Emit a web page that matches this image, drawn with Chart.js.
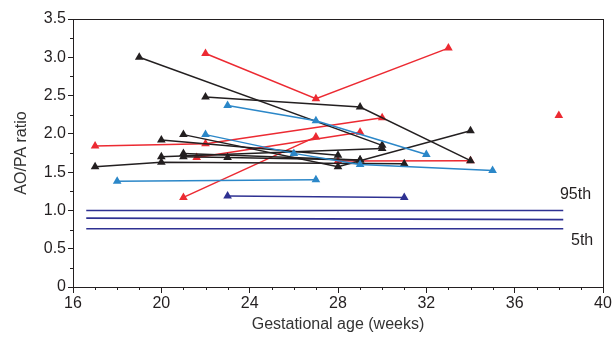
<!DOCTYPE html>
<html>
<head>
<meta charset="utf-8">
<script src="https://cdn.jsdelivr.net/npm/chart.js@4"></script>
<style>
  html, body { margin: 0; padding: 0; background: #fff; }
  #wrap { width: 616px; height: 338px; }
</style>
</head>
<body>
<div id="wrap"><canvas id="canvas" width="616" height="338"></canvas></div>
<script>
// x ticks and y ticks
var xTicks = [16, 20, 24, 28, 32, 36, 40];
var yTicks = [0, 0.5, 1.0, 1.5, 2.0, 2.5, 3.0, 3.5];

// black fetuses: weeks / ratio
var blackWeeks = [
  [19, 30],
  [22, 29, 34],
  [21, 28, 34],
  [17, 20, 31],
  [20, 30],
  [20, 28],
  [21, 29],
  [21, 23, 29]
];
var blackRatio = [
  [3.00, 1.85],
  [2.48, 2.35, 1.65],
  [1.99, 1.57, 2.04],
  [1.57, 1.63, 1.61],
  [1.70, 1.81],
  [1.92, 1.72],
  [1.745, 1.66],
  [1.70, 1.69, 1.66]
];

// red fetuses
var redWeeks = [
  [22, 27, 33],
  [17, 22, 30],
  [21, 27],
  [21.6, 29],
  [28, 34],
  [38]
];
var redRatio = [
  [3.05, 2.46, 3.12],
  [1.84, 1.87, 2.21],
  [1.17, 1.96],
  [1.69, 2.02],
  [1.645, 1.65],
  [2.24]
];

// blue fetuses
var blueWeeks = [
  [18, 27],
  [23, 27, 32],
  [22, 26, 29, 35]
];
var blueRatio = [
  [1.38, 1.40],
  [2.37, 2.17, 1.73],
  [1.99, 1.745, 1.60, 1.52]
];

// dark blue fetus
var navyWeeks = [[23, 31]];
var navyRatio = [[1.19, 1.17]];

// reference centiles
var refWeeks = [16.6, 38.2];
var ref95 = [1.00, 1.00];
var ref50 = [0.90, 0.88];
var ref5 = [0.76, 0.76];

var colors = {
  black: '#231f20',
  red: '#ec2a32',
  blue: '#2b87c8',
  navy: '#2e3192'
};

function pts(w, r) {
  return w.map(function(x, i) { return {x: x, y: r[i]}; });
}

var datasets = [];
function addGroup(weeks, ratios, col) {
  weeks.forEach(function(w, i) {
    datasets.push({
      data: pts(w, ratios[i]),
      borderColor: col,
      backgroundColor: col,
      borderWidth: 1.5,
      pointStyle: 'triangle',
      pointRadius: 5,
      pointBorderWidth: 0,
      showLine: true,
      tension: 0
    });
  });
}

[ref95, ref50, ref5].forEach(function(r) {
  datasets.push({
    data: pts(refWeeks, r),
    borderColor: colors.navy,
    borderWidth: 1.6,
    pointRadius: 0,
    showLine: true
  });
});
addGroup(blueWeeks, blueRatio, colors.blue);
addGroup(blackWeeks, blackRatio, colors.black);
addGroup(redWeeks, redRatio, colors.red);
addGroup(navyWeeks, navyRatio, colors.navy);

var extras = {
  id: 'extras',
  afterDraw: function(chart) {
    var ctx = chart.ctx, a = chart.chartArea;
    var xs = chart.scales.x, ys = chart.scales.y;
    ctx.save();
    ctx.strokeStyle = colors.black;
    ctx.lineWidth = 1;
    ctx.strokeRect(a.left + 0.5, a.top + 0.5, a.right - a.left, a.bottom - a.top);
    // minor ticks
    ctx.beginPath();
    for (var w = 17; w < 40; w++) {
      if (w % 4 === 0) continue;
      var px = Math.round(xs.getPixelForValue(w)) + 0.5;
      ctx.moveTo(px, a.bottom); ctx.lineTo(px, a.bottom + 3);
    }
    for (var v = 0.25; v < 3.5; v += 0.5) {
      var py = Math.round(ys.getPixelForValue(v)) + 0.5;
      ctx.moveTo(a.left, py); ctx.lineTo(a.left - 3, py);
    }
    ctx.stroke();
    ctx.fillStyle = colors.black;
    ctx.font = '16px "Liberation Sans", Arial, sans-serif';
    ctx.textBaseline = 'middle';
    ctx.fillText('95th', xs.getPixelForValue(38.05), ys.getPixelForValue(1.21));
    ctx.fillText('5th', xs.getPixelForValue(38.55), ys.getPixelForValue(0.61));
    ctx.restore();
  }
};

var font = { family: '"Liberation Sans", Arial, sans-serif', size: 16 };

new Chart(document.getElementById('canvas'), {
  type: 'scatter',
  data: { datasets: datasets },
  options: {
    responsive: false,
    animation: false,
    layout: { padding: { top: 19, right: 13, left: 0, bottom: 0 } },
    plugins: { legend: { display: false }, tooltip: { enabled: false } },
    scales: {
      x: {
        type: 'linear',
        min: 16, max: 40,
        afterBuildTicks: function(s) { s.ticks = xTicks.map(function(v) { return {value: v}; }); },
        afterFit: function(s) { s.height = 51; },
        grid: { drawOnChartArea: false, drawTicks: true, tickLength: 6, color: colors.black },
        border: { color: colors.black, width: 1 },
        ticks: { color: colors.black, font: font, padding: 1, maxRotation: 0 },
        title: { display: true, text: 'Gestational age (weeks)', color: '#333', font: { family: font.family, size: 16 }, padding: { top: 0 } }
      },
      y: {
        min: 0, max: 3.5,
        afterBuildTicks: function(s) { s.ticks = yTicks.map(function(v) { return {value: v}; }); },
        afterFit: function(s) { s.width = 73; },
        grid: { drawOnChartArea: false, drawTicks: true, tickLength: 5, color: colors.black },
        border: { color: colors.black, width: 1 },
        ticks: {
          color: colors.black, font: font, padding: 2,
          callback: function(v) { return v === 0 ? '0' : v.toFixed(1); }
        },
        title: { display: true, text: 'AO/PA ratio', color: '#333', font: { family: font.family, size: 16 }, padding: { top: 12, bottom: 0 } }
      }
    }
  },
  plugins: [extras]
});
</script>
</body>
</html>
